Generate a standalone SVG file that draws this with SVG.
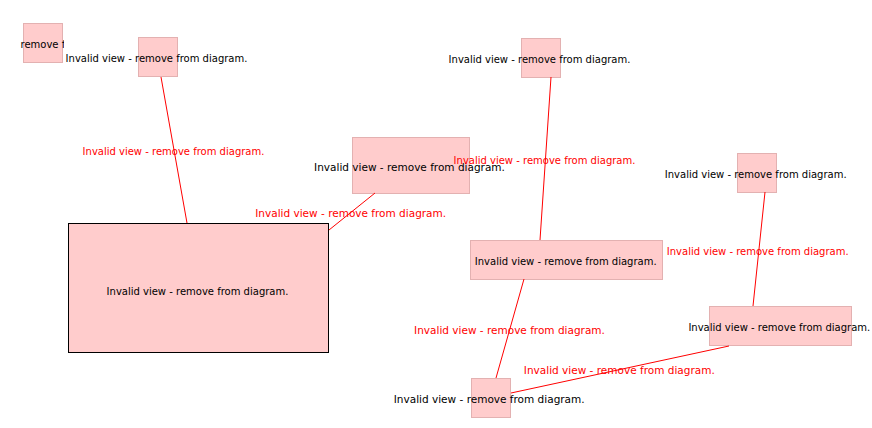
<svg xmlns="http://www.w3.org/2000/svg" width="872" height="428" viewBox="0 0 872 428">
<style>
.n{fill:#ffcccc;stroke:#e3b1b1;stroke-width:1}
.nb{fill:#ffcccc;stroke:#000000;stroke-width:1}
.t{font-family:"DejaVu Sans",Verdana,sans-serif;font-size:10px;fill:#000000;text-anchor:middle}
.e{stroke:#ff0000;stroke-width:1;fill:none}
.l{font-family:"DejaVu Sans",Verdana,sans-serif;font-size:10px;fill:#ff0000;text-anchor:middle}
.w{font-size:10.5px}
</style>
<defs>
<clipPath id="clipA"><rect x="20" y="23" width="44" height="40"/></clipPath>
</defs>
<rect width="872" height="428" fill="#ffffff"/>
<g id="nodeA">
<rect class="n" x="23.5" y="23.5" width="39" height="39"/>
<text class="t" x="42" y="48" clip-path="url(#clipA)">Invalid view - remove from diagram.</text>
</g>
<g id="nodeB">
<rect class="n" x="138.5" y="37.5" width="39" height="39"/>
<text class="t" x="156.5" y="62">Invalid view - remove from diagram.</text>
</g>
<g id="nodeC">
<rect class="nb" x="68.5" y="223.5" width="260" height="129"/>
<text class="t" x="197.5" y="295">Invalid view - remove from diagram.</text>
</g>
<g id="nodeD">
<rect class="n" x="352.5" y="137.5" width="117" height="56"/>
<text class="t w" x="409.5" y="170.5">Invalid view - remove from diagram.</text>
</g>
<g id="nodeE">
<rect class="n" x="521.5" y="38.5" width="39" height="39"/>
<text class="t" x="539.5" y="63">Invalid view - remove from diagram.</text>
</g>
<g id="nodeF">
<rect class="n" x="470.5" y="240.5" width="192" height="39"/>
<text class="t" x="565.7" y="265">Invalid view - remove from diagram.</text>
</g>
<g id="nodeG">
<rect class="n" x="737.5" y="153.5" width="39" height="39"/>
<text class="t" x="755.7" y="178.3">Invalid view - remove from diagram.</text>
</g>
<g id="nodeH">
<rect class="n" x="709.5" y="306.5" width="142" height="39"/>
<text class="t" x="779.3" y="330.7">Invalid view - remove from diagram.</text>
</g>
<g id="nodeI">
<rect class="n" x="471.5" y="378.5" width="39" height="39"/>
<text class="t w" x="489.2" y="402.7">Invalid view - remove from diagram.</text>
</g>
<g id="connectors">
<line class="e" x1="161" y1="77" x2="187" y2="223"/>
<text class="l" x="173.5" y="155">Invalid view - remove from diagram.</text>
<line class="e" x1="375" y1="193" x2="329" y2="230"/>
<text class="l w" x="350.7" y="216.7">Invalid view - remove from diagram.</text>
<line class="e" x1="551" y1="77" x2="540" y2="240"/>
<text class="l" x="544.5" y="164">Invalid view - remove from diagram.</text>
<line class="e" x1="765" y1="192" x2="753" y2="306"/>
<text class="l" x="757.7" y="255">Invalid view - remove from diagram.</text>
<line class="e" x1="524" y1="279" x2="496" y2="378"/>
<text class="l w" x="509.5" y="334">Invalid view - remove from diagram.</text>
<line class="e" x1="729" y1="346" x2="511" y2="393"/>
<text class="l w" x="619.3" y="374">Invalid view - remove from diagram.</text>
</g>
</svg>
